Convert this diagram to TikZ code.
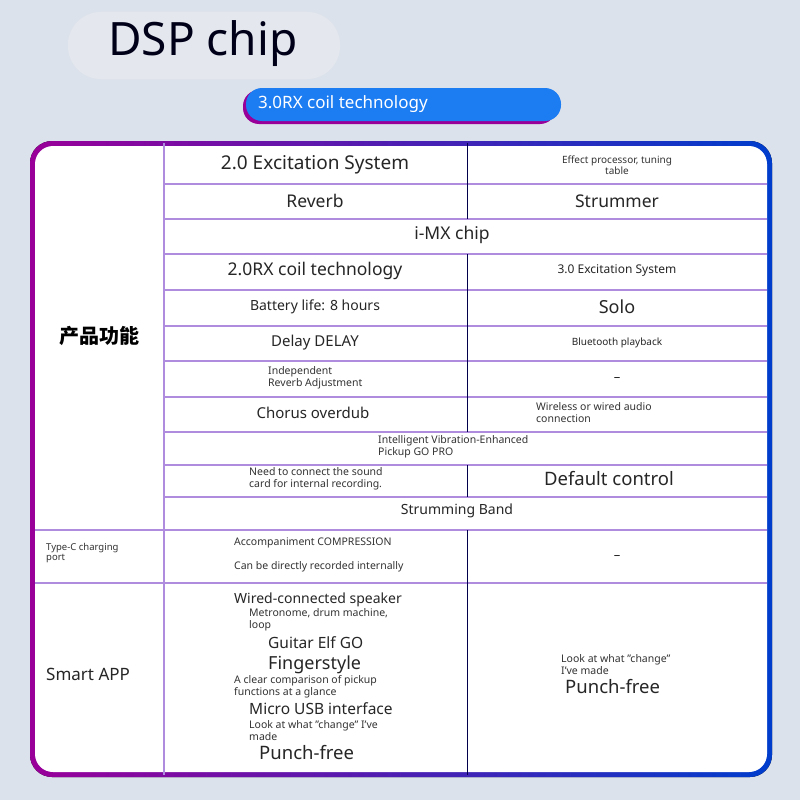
\documentclass[tikz,border=0pt]{standalone}
\usepackage{fontspec}
\setmainfont{Noto Sans}
\newfontfamily\cjk{Noto Sans CJK SC}
\definecolor{bg}{HTML}{DCE2EB}
\definecolor{pill}{HTML}{E4E8EE}
\definecolor{blu}{HTML}{1C7CF2}
\newcommand{\qq}{\char"22\relax}
\begin{document}
\begin{tikzpicture}[x=1pt,y=-1pt,
  t/.style={inner sep=0pt,text=black!85,font=\fontsize{#1}{#1}\selectfont},
  t/.default=15,
  s/.style={inner sep=0pt,text=black!80,align=left,font=\fontsize{#1pt}{1.15\dimexpr #1pt\relax}\selectfont},
  hl/.style={draw=purple!40!blue!45!white,line width=1.2pt}]
\useasboundingbox (0,0) rectangle (800,800);
\fill[bg] (0,0) rectangle (800,800);
\fill[pill,rounded corners=33pt] (68,12) rectangle (340,79);
\node[t=46,anchor=west,text=black!90!blue] (title) at (108,44) {DSP chip};
\fill[violet!80!magenta,rounded corners=16pt] (243,90) rectangle (556,124);
\fill[blu,rounded corners=16pt] (246,88) rectangle (561,121);
\node[t=17,anchor=west,text=white] (sub) at (258,104) {3.0RX coil technology};
% frame
\fill[left color=violet!80!magenta, right color=blue!70!cyan!80!black,rounded corners=22pt] (30,141) rectangle (772,777);
\fill[white,rounded corners=18pt] (35,146) rectangle (767,772);
% grid
\foreach \y in {184,219,254,290,326,361,397,432,465,497} \draw[hl] (164,\y) -- (767,\y);
\foreach \y in {530,583} \draw[hl] (35,\y) -- (767,\y);
\draw[hl] (164,143) -- (164,775);
\draw[black!70!blue,line width=0.8pt] (467,143) -- (467,219);
\draw[black!70!blue,line width=0.8pt] (467,254) -- (467,432);
\draw[black!70!blue,line width=0.8pt] (467,465) -- (467,497);
\draw[black!70!blue,line width=0.8pt] (467,530) -- (467,775);
% left labels
\node[inner sep=0pt,font=\cjk\bfseries\fontsize{20}{20}\selectfont] (l1) at (99,336) {产品功能};
\node[s=9.5,anchor=west] (l2) at (46,553) {Type-C charging\\port};
\node[t=17,anchor=west] (l3) at (46,674) {Smart APP};
% cells
\node[t=19] (a1) at (315,165) {2.0 Excitation System};
\node[s=10,align=center] (b1) at (617,165) {Effect processor, tuning\\table};
\node[t=17.5] (a2) at (315,201) {Reverb};
\node[t=17.5] (b2) at (617,201) {Strummer};
\node[t=17.5] (c3) at (452,235) {i-MX chip};
\node[t=17.5] (a4) at (315,271) {2.0RX coil technology};
\node[t=12] (b4) at (617,271) {3.0 Excitation System};
\node[t=14] (a5) at (315,307) {Battery life: 8 hours};
\node[t=18] (b5) at (617,307) {Solo};
\node[t=15] (a6) at (315,343) {Delay DELAY};
\node[t=10] (b6) at (617,343) {Bluetooth playback};
\node[s=10.5,anchor=west] (a7) at (268,378) {Independent\\Reverb Adjustment};
\node[t=13] (b7) at (617,380) {--};
\node[t=15] (a8) at (313,413) {Chorus overdub};
\node[s=10.5,anchor=west] (b8) at (536,413) {Wireless or wired audio\\connection};
\node[s=10.5,anchor=west] (c9) at (378,447) {Intelligent Vibration-Enhanced\\Pickup GO PRO};
\node[s=10.5,anchor=west] (a10) at (249,479) {Need to connect the sound\\card for internal recording.};
\node[t=18.5] (b10) at (609,479) {Default control};
\node[t=14] (c11) at (457,511) {Strumming Band};
\node[s=10.5,anchor=west] (a12) at (234,543) {Accompaniment COMPRESSION};
\node[s=10.5,anchor=west] (a12b) at (234,567) {Can be directly recorded internally};
\node[t=13] (b12) at (617,557) {--};
\node[t=14,anchor=west] (m1) at (234,600) {Wired-connected speaker};
\node[s=10.5,anchor=west] (m2) at (249,620) {Metronome, drum machine,\\loop};
\node[t=15.5,anchor=west] (m3) at (268,643) {Guitar Elf GO};
\node[t=18,anchor=west] (m4) at (268,665) {Fingerstyle};
\node[s=10.5,anchor=west] (m5) at (234,687) {A clear comparison of pickup\\functions at a glance};
\node[t=15.5,anchor=west] (m6) at (249,709) {Micro USB interface};
\node[s=10.5,anchor=west] (m7) at (249,731) {Look at what \qq change\qq\ I've\\made};
\node[t=18.5,anchor=west] (m8) at (259,753) {Punch-free};
\node[s=10.5,anchor=west] (n1) at (561,665) {Look at what \qq change\qq\\I've made};
\node[t=18.5,anchor=west] (n2) at (565,687) {Punch-free};
\end{tikzpicture}
\end{document}
